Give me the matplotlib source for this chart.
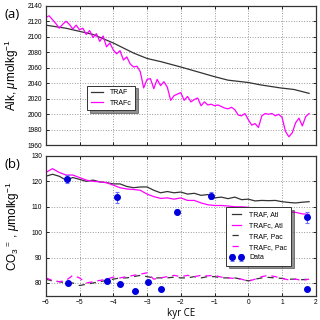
import matplotlib
matplotlib.use("Agg")
import matplotlib.pyplot as plt
import numpy as np

plt.rcParams['font.family'] = ['Liberation Sans', 'DejaVu Sans']
plt.rcParams['mathtext.fontset'] = 'custom'
plt.rcParams['mathtext.rm'] = 'Liberation Sans'
plt.rcParams['mathtext.it'] = 'Liberation Sans:italic'

# ---- Panel (a): Alkalinity ----
traf_t = [-6.0, -5.4, -4.6, -4.0, -3.4, -3.0, -2.6, -2.0, -1.6, -1.0, -0.6, 0.0, 0.35, 0.95, 1.35, 1.8]
traf_alk = [2115, 2111, 2103, 2092, 2079, 2072, 2068, 2061, 2056, 2048.5, 2044, 2041, 2038, 2034, 2032, 2027]

trafc_t = [-6.0, -5.9, -5.8, -5.7, -5.6, -5.5, -5.4, -5.3, -5.2, -5.1, -5.0, -4.9, -4.8, -4.7, -4.6,
           -4.5, -4.4, -4.3, -4.2, -4.1, -4.0, -3.9, -3.8, -3.7, -3.6, -3.5, -3.4, -3.3, -3.2, -3.1,
           -3.0, -2.9, -2.8, -2.7, -2.6, -2.5, -2.4, -2.3, -2.2, -2.1, -2.0, -1.9, -1.8, -1.7, -1.6,
           -1.5, -1.4, -1.3, -1.2, -1.1, -1.0, -0.9, -0.8, -0.7, -0.6, -0.5, -0.4, -0.3, -0.2, -0.1,
           0.0, 0.1, 0.2, 0.3, 0.4, 0.5, 0.6, 0.7, 0.8, 0.9, 1.0, 1.1, 1.2, 1.3, 1.4, 1.5, 1.6, 1.7, 1.8]
trafc_alk = [2125, 2127, 2122, 2117, 2111, 2116, 2120, 2116, 2110, 2115, 2109, 2111, 2103, 2108, 2099,
             2104, 2094, 2101, 2087, 2092, 2083, 2078, 2082, 2070, 2074, 2065, 2061, 2062, 2055, 2034,
             2045, 2046, 2033, 2045, 2037, 2042, 2035, 2018, 2024, 2026, 2028, 2018, 2023, 2016, 2019,
             2021, 2011, 2016, 2012, 2013, 2011, 2012, 2010, 2008, 2007, 2009, 2006, 1999, 1998, 2001,
             1993, 1986, 1988, 1983, 1998, 2001, 2000, 2001, 1998, 2000, 1996, 1978, 1971, 1976, 1989,
             1995, 1985, 1997, 2001]

# ---- Panel (b): carbonate ion ----
b_t = [-6.0, -5.8, -5.6, -5.4, -5.2, -5.0, -4.8, -4.6, -4.4, -4.2, -4.0, -3.8, -3.6, -3.4, -3.2,
       -3.0, -2.8, -2.6, -2.4, -2.2, -2.0, -1.8, -1.6, -1.4, -1.2, -1.0, -0.8, -0.6, -0.4, -0.2,
       0.0, 0.2, 0.4, 0.6, 0.8, 1.0, 1.2, 1.4, 1.6, 1.8]
traf_atl = [122, 122.8, 122, 120.5, 121.5, 120.8, 120, 120.5, 119.8, 119.5, 119, 119, 118, 117.5, 117.8,
            117.8, 116.5, 115.5, 116, 115.5, 115.8, 115, 115.3, 114.5, 114.8, 113.5, 113.8, 113.2, 113.8, 112.8,
            113, 112.3, 112.5, 112.4, 112.5, 112, 111.7, 111.5, 111.8, 112]
trafc_atl = [123.5, 125, 123.5, 122.5, 122.5, 121.5, 120.5, 120, 119.8, 119.5, 118.5, 117.5, 117, 116.8, 116.5,
             115, 114, 113.3, 113.5, 113, 113.5, 112.5, 112.5, 111.5, 110.8, 110.5, 110.5, 110.3, 110, 110,
             109.8, 109.3, 109.3, 108.8, 108.5, 108.3, 108, 107.8, 107.2, 107]
traf_pac = [81.5, 80.8, 80.5, 80, 80, 79, 79.5, 80, 80.5, 81, 81.5, 82, 82, 82.5, 83,
            82.5, 82, 82, 82, 82.3, 82, 82, 82.5, 82, 82.5, 82.5, 82, 82, 82, 81.5,
            80.8, 81.5, 82, 82.2, 82, 81.8, 81.5, 81.5, 81.3, 81.5]
trafc_pac = [82, 81, 80.5, 81, 83, 82, 80, 80.5, 81, 81.5, 82.3, 82, 82.5, 83, 83.5,
             84, 81.5, 82, 82.5, 83, 82.5, 83, 82.5, 83, 82.8, 83, 82.3, 82, 81.8, 81.5,
             80.7, 81.5, 82.5, 83, 82.5, 81.8, 81.2, 81.5, 81, 81.5]

atl_data_t = [-5.38, -3.9, -2.1, -1.1, 1.75]
atl_data_v = [121, 113.7, 108, 114.4, 105.8]
atl_data_err = [1.5, 2.2, 1.0, 1.5, 2.0]
pac_data_t = [-5.35, -4.2, -3.8, -3.37, -2.98, -2.6, 1.75]
pac_data_v = [79.8, 80.7, 79.6, 76.9, 80.5, 77.8, 77.8]

xticks = [-6, -5, -4, -3, -2, -1, 0, 1, 2]

BLACK = '#333333'
MAG = '#ff00ff'
BLUE = '#0000dd'

fig = plt.figure(figsize=(3.2, 3.2), dpi=100)
ax1 = fig.add_axes([0.143, 0.546, 0.844, 0.436])
ax2 = fig.add_axes([0.143, 0.076, 0.844, 0.4366])

for ax in (ax1, ax2):
    ax.set_xlim(-6, 2)
    ax.set_xticks(xticks)
    ax.grid(True, linestyle=':', color='#999999', linewidth=0.7)
    ax.tick_params(direction='in', top=True, right=True, labelsize=4.8, length=2.5, width=0.6, pad=2.5)
    for s in ax.spines.values():
        s.set_linewidth(0.9)
        s.set_color('#333333')

shadow_props = {'color': '#222222', 'alpha': 0.5}

ax1.plot(traf_t, traf_alk, color=BLACK, lw=0.9, label='TRAF')
ax1.plot(trafc_t, trafc_alk, color=MAG, lw=0.9, label='TRAFc')
ax1.set_ylim(1960, 2140)
ax1.set_yticks(range(1960, 2141, 20))
ax1.tick_params(labelbottom=False)
ax1.set_ylabel(r'Alk, $\mu$molkg$^{-1}$', fontsize=8.5, labelpad=5)
leg1 = ax1.legend(loc='lower left', bbox_to_anchor=(0.14, 0.225), fontsize=5, shadow=shadow_props,
                  fancybox=False, framealpha=1, edgecolor='#333333', handlelength=1.8,
                  borderpad=0.55, labelspacing=0.45, handletextpad=0.9)
leg1.get_frame().set_linewidth(0.7)

ax2.plot(b_t, traf_atl, color=BLACK, lw=0.9, label='TRAF, Atl')
ax2.plot(b_t, trafc_atl, color=MAG, lw=0.9, label='TRAFc, Atl')
ax2.plot(b_t, traf_pac, color=BLACK, lw=0.9, ls=(0, (5, 4)), label='TRAF, Pac')
ax2.plot(b_t, trafc_pac, color=MAG, lw=0.9, ls=(0, (5, 4)), label='TRAFc, Pac')
ax2.errorbar(atl_data_t, atl_data_v, yerr=atl_data_err, fmt='o', color=BLUE, ecolor='#7070ff',
             markersize=4, elinewidth=0.8, capsize=1.5, capthick=0.8, label='Data', zorder=5)
ax2.plot(pac_data_t, pac_data_v, 'o', color=BLUE, markersize=4, zorder=5)
ax2.set_ylim(75, 130)
ax2.set_yticks(range(80, 131, 10))
ax2.set_ylabel(r'CO$_3$$^{=}$ , $\mu$molkg$^{-1}$', fontsize=8.5, labelpad=7)
ax2.set_xlabel('kyr CE', fontsize=7, family='Open Sans', labelpad=1)

h, l = ax2.get_legend_handles_labels()
leg2 = ax2.legend(h, l, loc='lower left', bbox_to_anchor=(0.655, 0.19), fontsize=5, shadow=shadow_props,
                  fancybox=False, framealpha=1, edgecolor='#333333', handlelength=1.8,
                  numpoints=2, borderpad=0.6, labelspacing=0.55, handletextpad=0.9)
leg2.get_frame().set_linewidth(0.7)

fig.text(0.015, 0.945, '(a)', fontsize=9.5, family='Open Sans')
fig.text(0.015, 0.475, '(b)', fontsize=9.5, family='Open Sans')

fig.savefig('out.png', dpi=100)
